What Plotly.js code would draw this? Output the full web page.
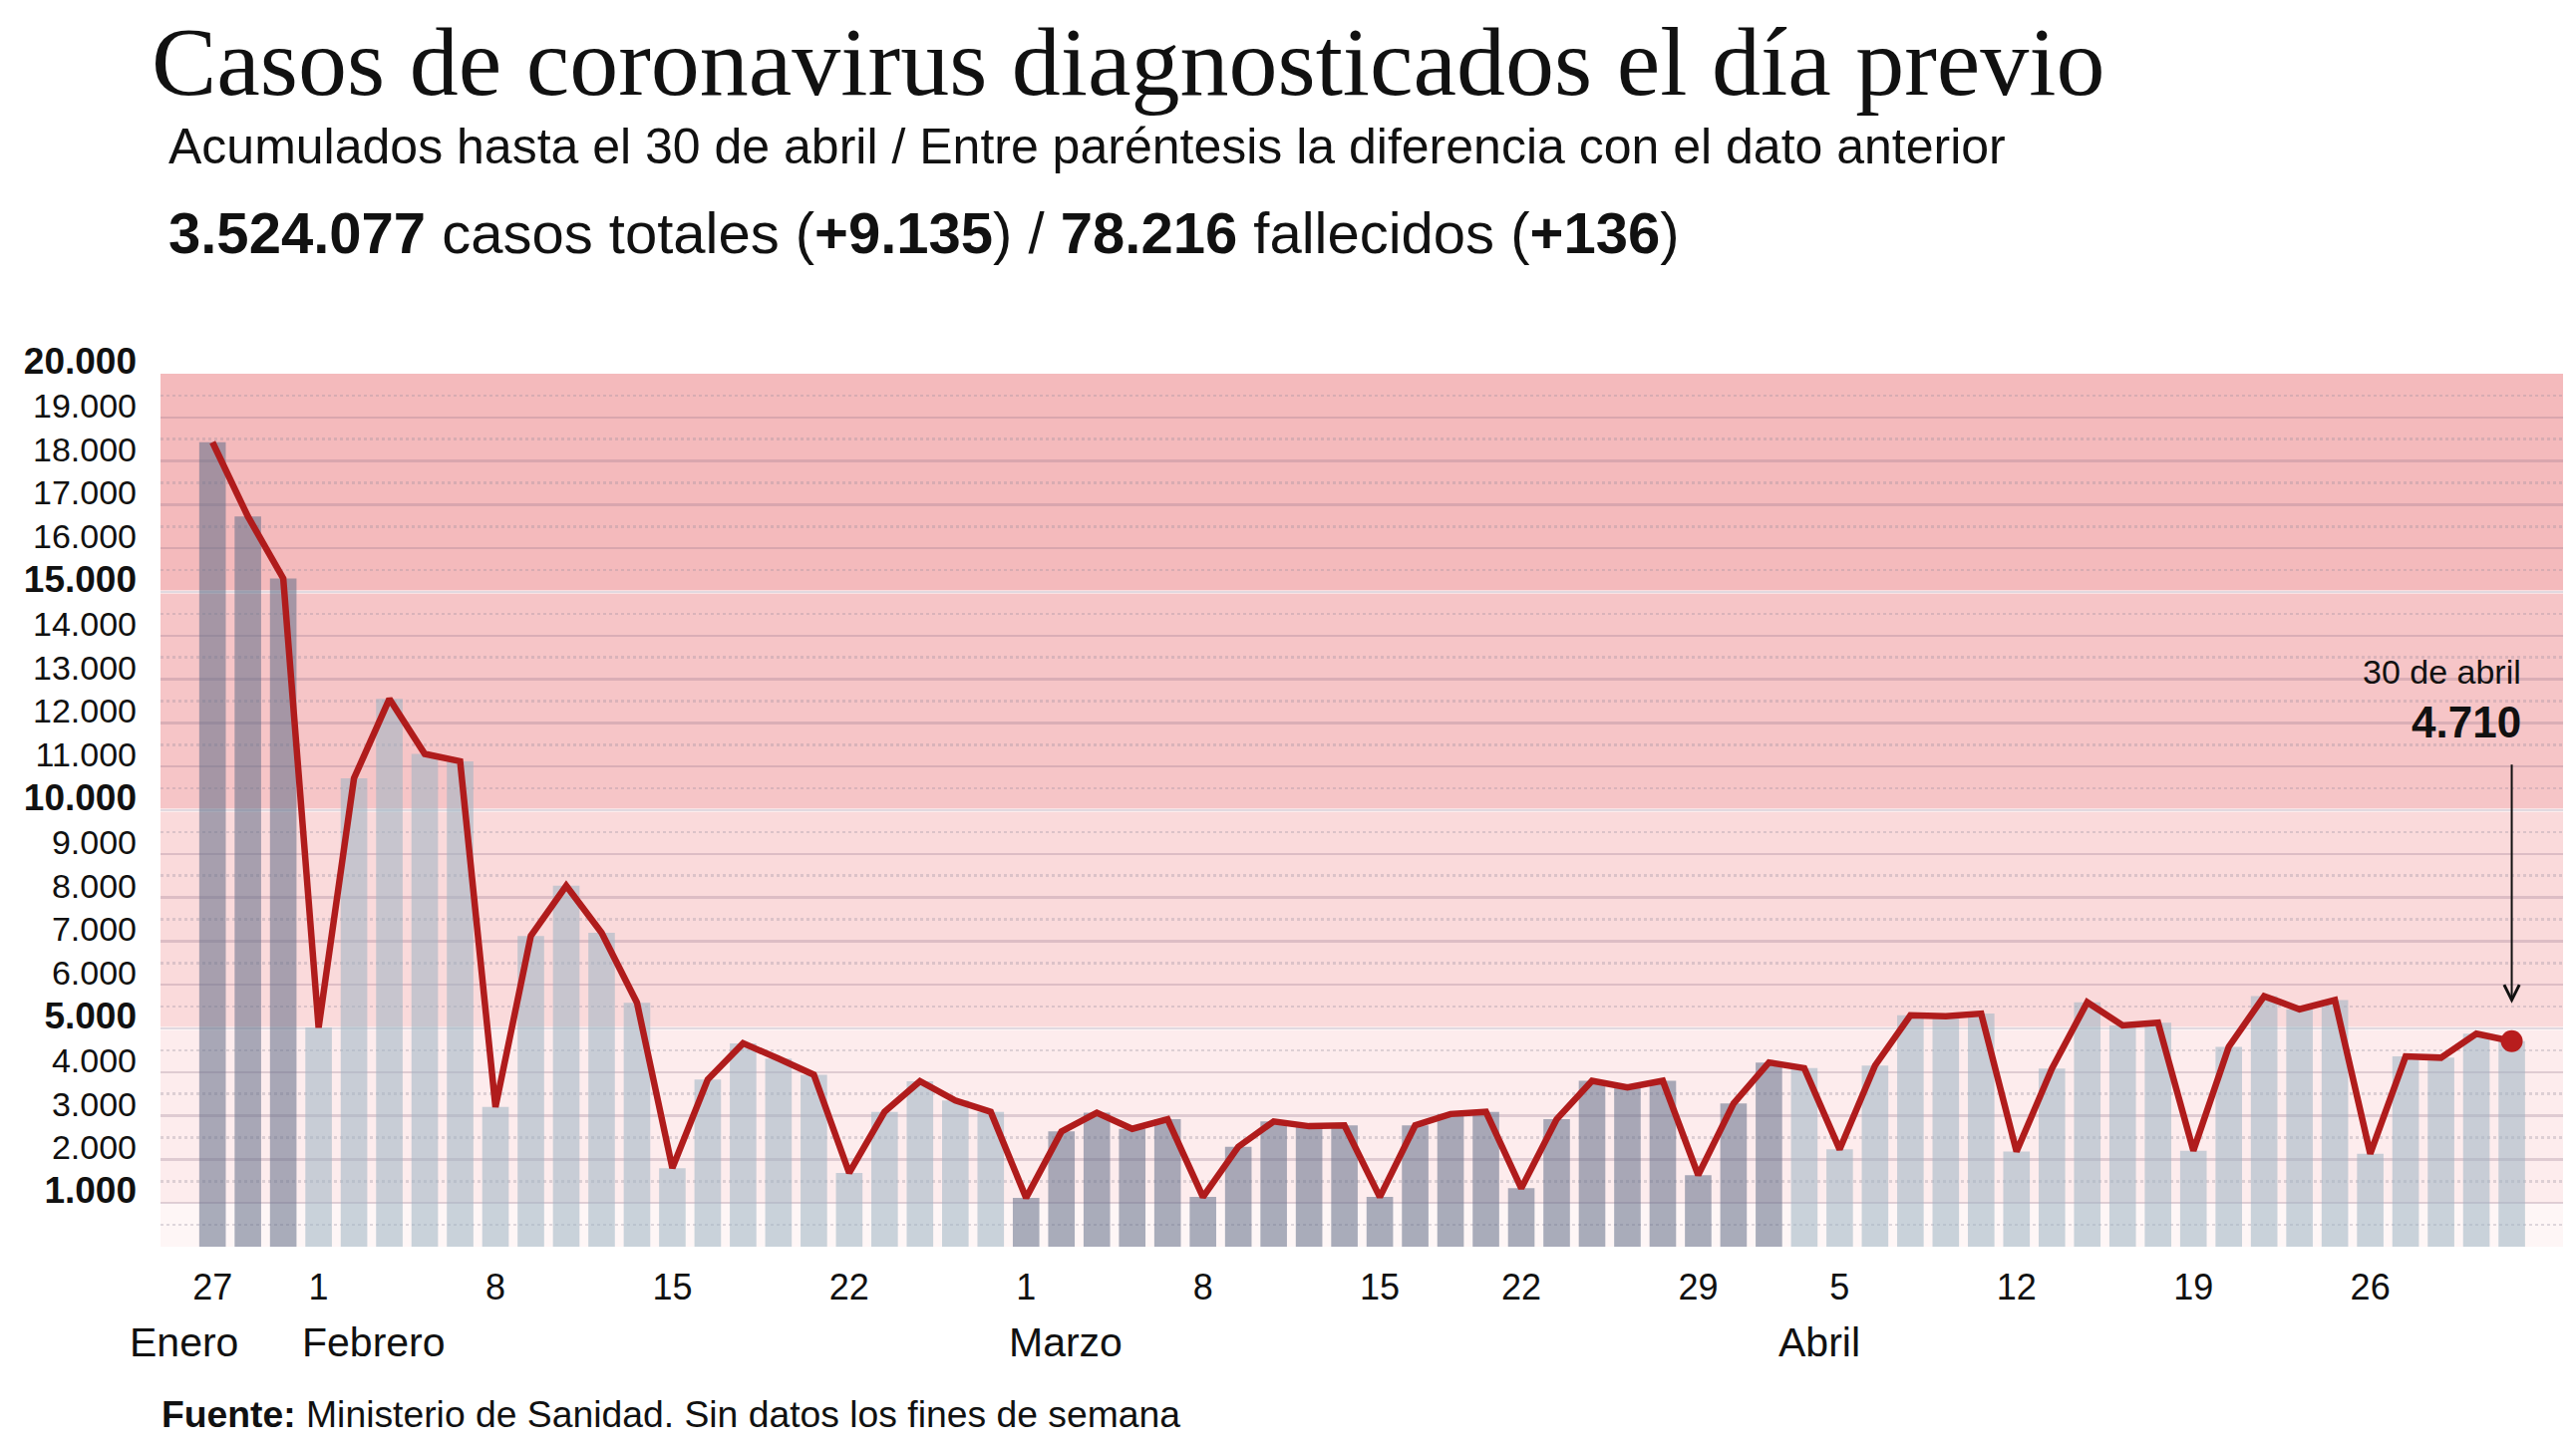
<!DOCTYPE html>
<html>
<head>
<meta charset="utf-8">
<script src="https://cdn.plot.ly/plotly-3.0.1.min.js"></script>
<style>html,body{margin:0;padding:0;background:#fff;}</style>
</head>
<body>
<div id="chart" style="width:2584px;height:1455px;"></div>
<script>
// ---------- DATA ----------
const fechas = [
  '2021-01-27','2021-01-28','2021-01-29',
  '2021-02-01','2021-02-02','2021-02-03','2021-02-04','2021-02-05',
  '2021-02-08','2021-02-09','2021-02-10','2021-02-11','2021-02-12',
  '2021-02-15','2021-02-16','2021-02-17','2021-02-18','2021-02-19',
  '2021-02-22','2021-02-23','2021-02-24','2021-02-25','2021-02-26',
  '2021-03-01','2021-03-02','2021-03-03','2021-03-04','2021-03-05',
  '2021-03-08','2021-03-09','2021-03-10','2021-03-11','2021-03-12',
  '2021-03-15','2021-03-16','2021-03-17','2021-03-18',
  '2021-03-22','2021-03-23','2021-03-24','2021-03-25','2021-03-26',
  '2021-03-29','2021-03-30','2021-03-31','2021-04-01',
  '2021-04-05','2021-04-06','2021-04-07','2021-04-08','2021-04-09',
  '2021-04-12','2021-04-13','2021-04-14','2021-04-15','2021-04-16',
  '2021-04-19','2021-04-20','2021-04-21','2021-04-22','2021-04-23',
  '2021-04-26','2021-04-27','2021-04-28','2021-04-29','2021-04-30'
];
const casos = [
  18430, 16730, 15310,
  5020, 10730, 12550, 11290, 11120,
  3200, 7120, 8270, 7190, 5590,
  1800, 3830, 4660, 4310, 3940,
  1690, 3090, 3790, 3350, 3090,
  1120, 2640, 3070, 2700, 2920,
  1140, 2290, 2870, 2760, 2780,
  1140, 2780, 3040, 3090,
  1340, 2920, 3800, 3650, 3800,
  1640, 3280, 4220, 4090,
  2230, 4150, 5300, 5280, 5340,
  2180, 4080, 5600, 5070, 5130,
  2200, 4580, 5740, 5440, 5650,
  2130, 4360, 4330, 4880, 4710
];
const diasTickVals = ['2021-01-27','2021-02-01','2021-02-08','2021-02-15','2021-02-22','2021-03-01','2021-03-08','2021-03-15','2021-03-22','2021-03-29','2021-04-05','2021-04-12','2021-04-19','2021-04-26'];
const diasTickText = ['27','1','8','15','22','1','8','15','22','29','5','12','19','26'];
const mesesNombre = ['Enero','Febrero','Marzo','Abril'];
const mesesFecha  = ['2021-01-27','2021-02-01','2021-03-01','2021-04-01'];
const yTickVals = [1000,2000,3000,4000,5000,6000,7000,8000,9000,10000,11000,12000,13000,14000,15000,16000,17000,18000,19000,20000];
const yTickText = ['1.000','2.000','3.000','4.000','5.000','6.000','7.000','8.000','9.000','10.000','11.000','12.000','13.000','14.000','15.000','16.000','17.000','18.000','19.000','20.000'];
const yTickBold = [1000,5000,10000,15000,20000];
const bandasLimites = [0,1000,5000,10000,15000,20000];
const totalCasos = '3.524.077', difCasos = '+9.135', totalFallecidos = '78.216', difFallecidos = '+136';
const ultimoTexto = '30 de abril', ultimoValor = '4.710';

// ---------- STYLE ----------
const SANS = '"Liberation Sans", Arial, sans-serif';
const SERIF = '"Liberation Serif", "Times New Roman", serif';
const bandColors = ['#fef6f6','#fdeced','#fadadb','#f6c5c7','#f4babc'];
const W = 2584, H = 1455, L = 161, R = 13, T = 375, B = 204;
const plotW = W - L - R, plotH = H - T - B;
const px2x = p => (p - L) / plotW;
const py2y = p => (H - B - p) / plotH;

const darkMonths = ['01','03'];
const barColors = fechas.map(f => darkMonths.includes(f.slice(5,7)) ? 'rgba(98,112,137,0.55)' : 'rgba(156,181,195,0.55)');

const yText = yTickText.map((t,i) => yTickBold.includes(yTickVals[i]) ? '<b><span style="font-size:37px">' + t + '</span></b>' : t);

const shapes = [];
for (let i = 0; i < bandasLimites.length - 1; i++) {
  shapes.push({type:'rect', xref:'paper', yref:'y', x0:0, x1:1, y0:bandasLimites[i], y1:bandasLimites[i+1],
    fillcolor: bandColors[i], line:{width:0}, layer:'below'});
}
[5000,10000,15000].forEach(v => shapes.push({type:'line', xref:'paper', yref:'y', x0:0, x1:1, y0:v, y1:v,
  line:{color:'#ffffff', width:3}, layer:'between'}));

const monthShift = {'Enero':-29,'Febrero':55,'Marzo':40,'Abril':15};
const annotations = [];
mesesNombre.forEach((m,i) => annotations.push({
  text:m, x:mesesFecha[i], xref:'x', y:0, yref:'paper', xanchor:'center', yanchor:'middle',
  xshift: monthShift[m], yshift:-96, showarrow:false, font:{family:SANS, size:41, color:'#111'}
}));
annotations.push({
  text:'Acumulados hasta el 30 de abril / Entre paréntesis la diferencia con el dato anterior',
  xref:'paper', yref:'paper', x:px2x(167), y:py2y(147), xanchor:'left', yanchor:'middle', showarrow:false,
  font:{family:SANS, size:50, color:'#111'}
});
annotations.push({
  text:'<b>'+totalCasos+'</b> casos totales (<b>'+difCasos+'</b>) / <b>'+totalFallecidos+'</b> fallecidos (<b>'+difFallecidos+'</b>)',
  xref:'paper', yref:'paper', x:px2x(167), y:py2y(233), xanchor:'left', yanchor:'middle', showarrow:false,
  font:{family:SANS, size:58, color:'#111'}
});
annotations.push({
  text:'<b>Fuente:</b> Ministerio de Sanidad. Sin datos los fines de semana',
  xref:'paper', yref:'paper', x:px2x(160), y:py2y(1419), xanchor:'left', yanchor:'middle', showarrow:false,
  font:{family:SANS, size:37.3, color:'#111'}
});
const last = fechas.length - 1;
annotations.push({
  text:ultimoTexto, xref:'x', yref:'paper', x:fechas[last], y:py2y(674), xanchor:'right', yanchor:'middle',
  xshift:11, showarrow:false, font:{family:SANS, size:34, color:'#111'}
});
annotations.push({
  text:'<b>'+ultimoValor+'</b>', xref:'x', yref:'paper', x:fechas[last], y:py2y(724), xanchor:'right', yanchor:'middle',
  xshift:11, showarrow:false, font:{family:SANS, size:44, color:'#111'}
});
annotations.push({
  text:'', xref:'x', yref:'y', x:fechas[last], y:casos[last], ax:0, ay:-279,
  showarrow:true, arrowhead:5, arrowsize:1.5, arrowwidth:2, arrowcolor:'#111', standoff:38
});

const data = [
  {type:'bar', x:fechas, y:casos, marker:{color:barColors, line:{width:0}}, hoverinfo:'x+y'},
  {type:'scatter', mode:'lines', x:fechas, y:casos, line:{color:'#b01c1c', width:6.5}, hoverinfo:'skip'},
  {type:'scatter', mode:'markers', x:[fechas[last]], y:[casos[last]], marker:{color:'#b81d1d', size:22}, hoverinfo:'skip'}
];

const layout = {
  width:W, height:H,
  margin:{l:L, r:R, t:T, b:B, pad:0},
  paper_bgcolor:'#ffffff', plot_bgcolor:'rgba(0,0,0,0)',
  showlegend:false, bargap:0.25,
  title:{text:'Casos de coronavirus diagnosticados el día previo', xref:'container', yref:'container',
    x:152/W, xanchor:'left', y:1-61/H, yanchor:'middle', font:{family:SERIF, size:98, color:'#111'}},
  xaxis:{type:'category', range:[-1.47, 66.45], tickmode:'array', tickvals:diasTickVals, ticktext:diasTickText,
    showgrid:false, zeroline:false, showline:false, ticks:'', ticklabelstandoff:16,
    tickfont:{family:SANS, size:36, color:'#111'}, fixedrange:true},
  yaxis:{range:[0,20000], tickmode:'array', tickvals:yTickVals, ticktext:yText,
    showgrid:true, gridcolor:'rgba(140,110,135,0.26)', gridwidth:2.5, zeroline:false, showline:false, ticks:'',
    ticklabelstandoff:23, ticklabelshift:-12,
    tickfont:{family:SANS, size:34, color:'#111'},
    minor:{tickmode:'linear', tick0:500, dtick:1000, showgrid:true, gridcolor:'rgba(150,140,155,0.3)', griddash:'dot', gridwidth:2.5},
    fixedrange:true},
  shapes:shapes,
  annotations:annotations
};

Plotly.newPlot('chart', data, layout, {displayModeBar:false, staticPlot:true});
</script>
</body>
</html>
